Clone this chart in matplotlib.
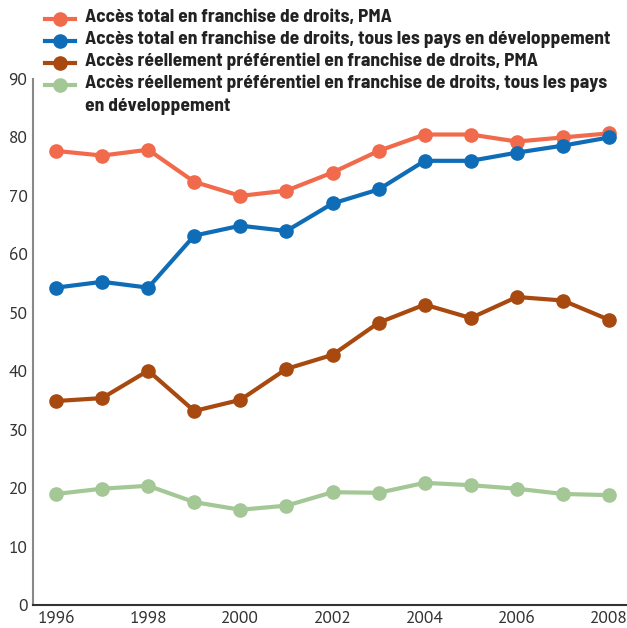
import matplotlib
matplotlib.use("Agg")
import matplotlib.pyplot as plt
from matplotlib.lines import Line2D
from matplotlib import font_manager

years = [1996, 1997, 1998, 1999, 2000, 2001, 2002, 2003, 2004, 2005, 2006, 2007, 2008]
total_pma = [77.7, 76.9, 77.9, 72.4, 70.0, 70.9, 74.0, 77.7, 80.5, 80.5, 79.3, 80.0, 80.7]
total_pd = [54.3, 55.3, 54.3, 63.2, 64.9, 64.0, 68.7, 71.1, 76.0, 76.0, 77.4, 78.6, 80.0]
pref_pma = [34.9, 35.4, 40.1, 33.2, 35.1, 40.4, 42.8, 48.3, 51.4, 49.1, 52.7, 52.1, 48.8]
pref_pd = [19.0, 19.9, 20.4, 17.6, 16.3, 17.0, 19.3, 19.2, 20.9, 20.5, 19.9, 19.0, 18.8]

labels = [
    "Accès total en franchise de droits, PMA",
    "Accès total en franchise de droits, tous les pays en développement",
    "Accès réellement préférentiel en franchise de droits, PMA",
    "Accès réellement préférentiel en franchise de droits, tous les pays\nen développement",
]
colors = ["#F06A4B", "#0F6CB6", "#A84A10", "#A4C796"]
yticks = [0, 10, 20, 30, 40, 50, 60, 70, 80, 90]
xticks = [1996, 1998, 2000, 2002, 2004, 2006, 2008]

names = {f.name for f in font_manager.fontManager.ttflist}
def pick(*cands):
    for c in cands:
        if c in names:
            return c
    return "DejaVu Sans"
cond = pick("Barlow Semi Condensed", "Asap Condensed", "Archivo Narrow")
reg = pick("PT Sans", "Asap Condensed", "Open Sans")

fig = plt.figure(figsize=(6.27, 6.28), dpi=100)
ax = fig.add_axes([33 / 627, 23 / 628, (627 - 33) / 627, (605 - 79) / 628])

for vals, c in zip([total_pma, total_pd, pref_pma, pref_pd], colors):
    ax.plot(years, vals, color=c, lw=3, marker="o", ms=9.5, clip_on=False, zorder=3)

ax.set_xlim(1995.5, 2008.39)
ax.set_ylim(0, 90)
ax.set_yticks(yticks)
ax.set_xticks(xticks)
ax.tick_params(length=0, labelsize=12.5, colors="#333333", pad=4)
for lab in ax.get_xticklabels() + ax.get_yticklabels():
    lab.set_fontfamily(reg)
ax.spines["top"].set_visible(False)
ax.spines["right"].set_visible(False)
ax.spines["left"].set_color("#888888")
ax.spines["left"].set_linewidth(1.5)
ax.spines["bottom"].set_color("#333333")
ax.spines["bottom"].set_linewidth(1.5)

rows_y = [19, 41, 63, 85]
for c, lab, yy in zip(colors, labels, rows_y):
    yf = 1 - yy / 628
    fig.add_artist(Line2D([45 / 627, 75 / 627], [yf, yf], color=c, lw=3,
                          transform=fig.transFigure))
    fig.add_artist(Line2D([60 / 627], [yf], color=c, marker="o", ms=9.5,
                          transform=fig.transFigure))
    fig.text(85 / 627, yf + 10 / 628, lab, ha="left", va="top", fontsize=14,
             fontweight="bold", family=cond, color="#222222", linespacing=1.4)

fig.savefig("out.png", dpi=100)
